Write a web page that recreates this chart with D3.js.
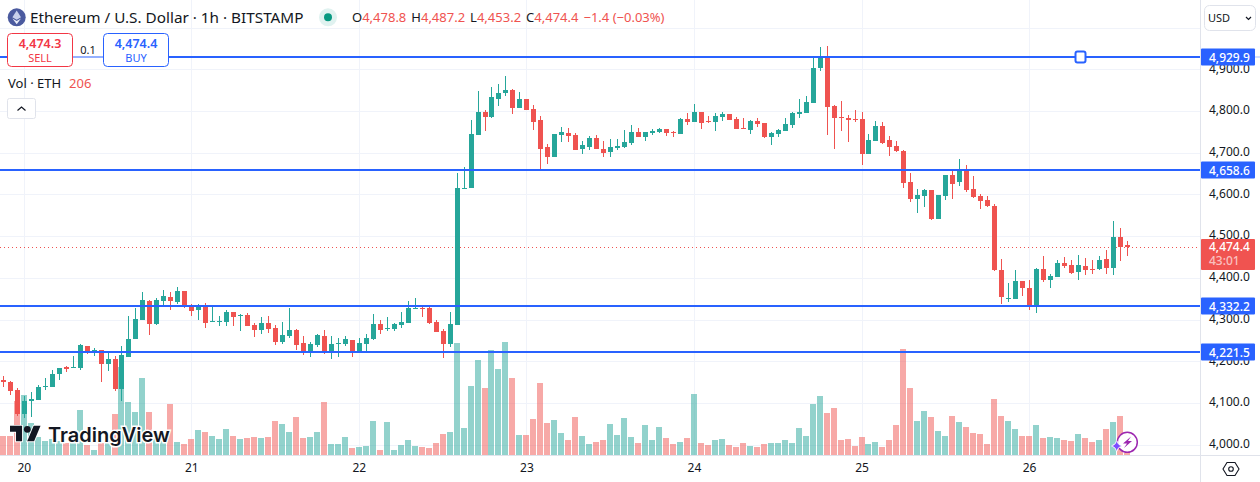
<!DOCTYPE html>
<html>
<head>
<meta charset="utf-8">
<title>ETHUSD</title>
<script src="https://cdn.jsdelivr.net/npm/d3@7/dist/d3.min.js"></script>
<style>
body { margin: 0; background: #fff; }
svg { display: block; font-family: "Noto Sans", sans-serif; }
</style>
</head>
<body>
<svg id="chart" width="1260" height="482"></svg>
<script>
var opens = [
    4155,4150,4131,4073,4105,4107,4138,4138,4169,4185,
    4184,4184,4237,4220,4227,4193,4205,4133,4210,4253,
    4299,4344,4289,4344,4354,4342,4368,4335,4323,4332,
    4294,4294,4294,4318,4308,4311,4287,4275,4292,4280,
    4246,4261,4275,4244,4220,4239,4261,4222,4241,4241,
    4251,4222,4241,4253,4289,4277,4277,4287,4292,4325,
    4328,4328,4294,4272,4241,4287,4613,4615,4742,4798,
    4786,4829,4843,4850,4807,4829,4805,4778,4714,4690,
    4742,4747,4742,4709,4714,4735,4709,4702,4711,4714,
    4723,4750,4738,4747,4750,4757,4750,4745,4781,4774,
    4798,4776,4774,4786,4793,4781,4759,4754,4776,4771,
    4738,4745,4752,4766,4793,4795,4819,4903,4927,4812,
    4786,4783,4781,4781,4697,4728,4764,4730,4716,4704,
    4630,4589,4596,4611,4541,4596,4647,4630,4659,4613,
    4596,4587,4572,4419,4349,4349,4392,4376,4330,4421,
    4395,4402,4436,4431,4414,4428,4421,4421,4445,4424,
    4498,4478.8
];
var highs = [
    4165,4153,4136,4117,4125,4143,4160,4179,4184,4189,
    4213,4241,4237,4232,4227,4220,4213,4237,4308,4328,
    4366,4347,4352,4371,4366,4378,4368,4337,4337,4340,
    4335,4308,4323,4318,4313,4316,4292,4306,4308,4287,
    4294,4328,4277,4261,4246,4265,4275,4261,4256,4261,
    4251,4256,4265,4313,4299,4306,4292,4318,4344,4352,
    4332,4330,4299,4277,4318,4651,4666,4778,4848,4802,
    4858,4865,4884,4853,4846,4829,4814,4788,4721,4745,
    4762,4759,4747,4728,4740,4742,4728,4733,4733,4754,
    4766,4759,4750,4757,4759,4757,4752,4783,4795,4817,
    4798,4788,4795,4798,4793,4786,4783,4778,4783,4771,
    4750,4757,4783,4798,4829,4836,4930,4953,4956,4814,
    4824,4790,4802,4798,4745,4776,4774,4740,4728,4707,
    4651,4613,4613,4611,4599,4647,4661,4685,4670,4644,
    4601,4596,4577,4445,4388,4419,4392,4395,4424,4452,
    4409,4443,4450,4443,4455,4447,4443,4452,4467,4536,
    4520,4487.2
];
var lows = [
    4139,4119,4069,4064,4065,4107,4131,4138,4155,4173,
    4184,4179,4217,4213,4150,4177,4129,4105,4210,4253,
    4299,4263,4287,4335,4323,4337,4328,4308,4299,4280,
    4294,4285,4285,4285,4273,4284,4258,4265,4268,4239,
    4241,4256,4227,4215,4210,4234,4217,4205,4210,4236,
    4210,4222,4222,4251,4265,4273,4273,4280,4292,4325,
    4306,4289,4270,4208,4234,4287,4613,4615,4742,4752,
    4783,4812,4836,4793,4807,4802,4754,4658,4673,4690,
    4726,4726,4706,4697,4706,4709,4690,4690,4706,4711,
    4718,4738,4728,4742,4747,4740,4738,4745,4766,4774,
    4757,4771,4752,4776,4778,4757,4757,4745,4762,4735,
    4718,4738,4752,4759,4783,4795,4819,4896,4742,4709,
    4752,4726,4774,4670,4697,4728,4721,4692,4702,4615,
    4582,4555,4570,4539,4541,4587,4589,4620,4606,4591,
    4565,4570,4416,4337,4342,4349,4356,4323,4316,4390,
    4376,4402,4423,4409,4395,4407,4409,4419,4409,4407,
    4440,4453.2
];
var closes = [
    4151,4129,4073,4105,4109,4138,4141,4169,4184,4181,
    4186,4239,4220,4227,4193,4205,4133,4215,4253,4301,
    4347,4289,4347,4356,4344,4368,4332,4320,4332,4292,
    4296,4296,4318,4306,4311,4285,4275,4292,4277,4246,
    4263,4275,4239,4220,4241,4263,4222,4241,4244,4253,
    4222,4244,4256,4289,4275,4280,4289,4294,4328,4328,
    4325,4292,4270,4241,4289,4615,4615,4745,4798,4786,
    4834,4843,4850,4807,4829,4802,4774,4709,4690,4745,
    4750,4740,4707,4718,4735,4709,4699,4714,4716,4726,
    4750,4738,4750,4752,4757,4747,4748,4781,4774,4798,
    4771,4774,4788,4793,4778,4757,4757,4776,4769,4738,
    4747,4754,4769,4795,4798,4822,4903,4930,4810,4783,
    4783,4778,4778,4697,4730,4764,4723,4714,4704,4627,
    4589,4599,4611,4541,4599,4647,4625,4661,4611,4594,
    4584,4572,4419,4354,4352,4392,4376,4330,4421,4395,
    4404,4436,4428,4411,4431,4419,4419,4443,4424,4498,
    4474,4474.4
];
var volumes = [
    1900,1900,5400,6000,3200,1800,1400,1600,1400,1200,
    1300,4500,1000,500,1200,1500,4100,8800,5300,4300,
    7700,4300,2000,2000,5100,1300,1100,1600,2500,2300,
    1900,1600,2600,1900,1600,1700,1800,1700,1800,3400,
    3100,2300,3800,1700,1800,2300,5300,1100,1100,1800,
    700,800,900,3400,500,3300,500,1000,1500,900,
    800,700,1200,2100,2300,11200,2700,6900,9500,6700,
    10500,8600,11300,7700,2000,2000,3600,7200,3200,3500,
    2200,1500,3800,1900,1100,1300,1500,3100,2000,3700,
    1800,1200,3000,1500,2800,1700,1100,1300,1700,6100,
    1200,1000,1500,1600,1000,800,1200,900,800,1100,
    1200,1200,1500,1200,2700,1900,5100,5900,4200,4700,
    1500,1600,900,1800,1100,1300,800,1500,3000,10600,
    6700,3400,4400,3800,2400,1900,3900,3300,2800,2200,
    2100,1100,5600,3900,3400,2600,1900,1900,3000,1700,
    1800,1700,1500,1400,2100,1700,1300,1500,2600,3300,
    3900,206
];
var priceTicks = [4000, 4100, 4200, 4300, 4400, 4500, 4600, 4700, 4800, 4900];
var gridPrices = [4000, 4100, 4200, 4300, 4400, 4500, 4600, 4700, 4800, 4900, 5000];
var dayTicks = [3, 27, 51, 75, 99, 123, 147];
var dayLabels = ["20", "21", "22", "23", "24", "25", "26"];
var levels = [4929.9, 4658.6, 4332.2, 4221.5];
var lastPrice = 4474.4;

var upColor = "#26a69a", downColor = "#ef5350", blue = "#2962ff";
var textColor = "#131722", gridColor = "#f0f3fa", borderColor = "#e0e3eb";
var chartRight = 1200, chartBottom = 455;

var svg = d3.select("#chart");
var fmt = d3.format(",.1f");

var x = d3.scaleLinear().domain([0, opens.length - 1]).range([3.3, 1127.3]);
var y = d3.scaleLinear().domain([4000, 4900]).range([444.6, 69.3]);
var yVol = d3.scaleLinear().domain([0, 11300]).range([chartBottom, 342]);

function px(i) { return Math.floor(x(i)); }
function py(p) { return Math.round(y(p)); }
function colorOf(i) { return closes[i] >= opens[i] ? upColor : downColor; }

// grid
svg.append("g").selectAll("line")
    .data(gridPrices)
    .enter()
    .append("line")
    .attr("x1", 0)
    .attr("x2", chartRight)
    .attr("y1", function(d) { return py(d) + 0.5; })
    .attr("y2", function(d) { return py(d) + 0.5; })
    .attr("stroke", gridColor);

svg.append("g").selectAll("line")
    .data(dayTicks)
    .enter()
    .append("line")
    .attr("x1", function(d) { return px(d) + 0.5; })
    .attr("x2", function(d) { return px(d) + 0.5; })
    .attr("y1", 0)
    .attr("y2", chartBottom)
    .attr("stroke", gridColor);

// volume
svg.append("g").selectAll("rect")
    .data(volumes)
    .enter()
    .append("rect")
    .attr("x", function(d, i) { return px(i) - 3; })
    .attr("width", 6)
    .attr("y", function(d) { return Math.round(yVol(d)); })
    .attr("height", function(d) { return chartBottom - Math.round(yVol(d)); })
    .attr("fill", function(d, i) { return colorOf(i); })
    .attr("fill-opacity", 0.5);

// last price dotted line
svg.append("line")
    .attr("x1", 0)
    .attr("x2", chartRight)
    .attr("y1", py(lastPrice) + 0.5)
    .attr("y2", py(lastPrice) + 0.5)
    .attr("stroke", downColor)
    .attr("stroke-dasharray", "1 3");

// candles
var candles = svg.append("g").selectAll("g")
    .data(opens)
    .enter()
    .append("g");

candles.append("rect")
    .attr("x", function(d, i) { return px(i); })
    .attr("width", 1)
    .attr("y", function(d, i) { return py(highs[i]); })
    .attr("height", function(d, i) { return py(lows[i]) - py(highs[i]); })
    .attr("fill", function(d, i) { return colorOf(i); });

candles.append("rect")
    .attr("x", function(d, i) { return px(i) - 2; })
    .attr("width", 5)
    .attr("y", function(d, i) { return py(Math.max(opens[i], closes[i])); })
    .attr("height", function(d, i) {
        return Math.max(1, py(Math.min(opens[i], closes[i])) - py(Math.max(opens[i], closes[i])));
    })
    .attr("fill", function(d, i) { return colorOf(i); });

// horizontal levels
svg.append("g").selectAll("line")
    .data(levels)
    .enter()
    .append("line")
    .attr("x1", 0)
    .attr("x2", chartRight)
    .attr("y1", function(d) { return py(d); })
    .attr("y2", function(d) { return py(d); })
    .attr("stroke", blue)
    .attr("stroke-width", 2);

// line handle
svg.append("rect")
    .attr("x", 1075.5)
    .attr("y", py(levels[0]) - 5.5)
    .attr("width", 10)
    .attr("height", 11)
    .attr("rx", 2)
    .attr("fill", "#fff")
    .attr("stroke", blue)
    .attr("stroke-width", 2);

// panes border
svg.append("line").attr("x1", chartRight + 0.5).attr("x2", chartRight + 0.5).attr("y1", 0).attr("y2", 482)
    .attr("stroke", borderColor);
svg.append("line").attr("x1", 0).attr("x2", 1260).attr("y1", chartBottom + 0.5).attr("y2", chartBottom + 0.5)
    .attr("stroke", borderColor);

// axes
var yAxis = d3.axisRight(y)
    .tickValues(priceTicks)
    .tickSize(0)
    .tickPadding(9)
    .tickFormat(fmt);

var gy = svg.append("g")
    .attr("transform", "translate(" + chartRight + ",0)")
    .call(yAxis);
gy.select(".domain").remove();
gy.selectAll("text")
    .attr("dy", "0.24em")
    .attr("fill", textColor)
    .style("font-size", "12px")
    .style("font-family", "'Noto Sans'");

var xAxis = d3.axisBottom(x)
    .tickValues(dayTicks)
    .tickSize(0)
    .tickPadding(8)
    .offset(0)
    .tickFormat(function(d, i) { return dayLabels[i]; });

var gx = svg.append("g")
    .attr("transform", "translate(0," + chartBottom + ")")
    .call(xAxis);
gx.select(".domain").remove();
gx.selectAll("text").attr("fill", textColor).style("font-size", "12px").style("font-family", "'Noto Sans'");

// price labels on the axis
svg.append("line").attr("x1", 1255).attr("x2", 1260).attr("y1", py(levels[0])).attr("y2", py(levels[0]))
    .attr("stroke", "#a9bdff");

var levelTags = svg.append("g").selectAll("g")
    .data(levels)
    .enter()
    .append("g")
    .attr("transform", function(d) { return "translate(1201," + py(d) + ")"; });

levelTags.append("rect")
    .attr("y", -8.5)
    .attr("width", 54)
    .attr("height", 17)
    .attr("rx", 1)
    .attr("fill", blue);

levelTags.append("text")
    .attr("x", 8)
    .attr("y", 4.5)
    .attr("fill", "#fff")
    .attr("font-size", 12)
    .attr("font-weight", 500)
    .text(function(d) { return fmt(d); });

svg.append("rect")
    .attr("x", 1201).attr("y", 239).attr("width", 54).attr("height", 31).attr("rx", 1)
    .attr("fill", "#f05350");
svg.append("text").attr("x", 1209).attr("y", 251).attr("fill", "#fff").attr("font-size", 12).attr("font-weight", 500).text(fmt(lastPrice));
svg.append("text").attr("x", 1209).attr("y", 265).attr("fill", "#fff").attr("fill-opacity", 0.65).attr("font-size", 12).attr("font-weight", 500).text("43:01");

// TradingView logo
var logo = svg.append("g").attr("transform", "translate(11,426)");
logo.append("path")
    .attr("transform", "translate(-1,-3.6) scale(0.86)")
    .attr("d", "M14 22H7V11H0V4h14v18zM28 22h-8l7.5-18h8L28 22z")
    .attr("fill", "#131722")
    .attr("stroke", "#fff")
    .attr("stroke-width", 2)
    .style("paint-order", "stroke");
logo.append("circle").attr("cx", 16.3).attr("cy", 3.3).attr("r", 3.4).attr("fill", "#131722");
logo.append("text")
    .attr("x", 37)
    .attr("y", 16)
    .attr("font-family", "Inter")
    .attr("font-weight", 600)
    .attr("font-size", 20)
    .attr("fill", "#131722")
    .attr("stroke", "#fff")
    .attr("stroke-width", 3)
    .style("paint-order", "stroke")
    .text("TradingView");

// lightning badge
svg.append("circle").attr("cx", 1127.3).attr("cy", 442.3).attr("r", 10).attr("fill", "#fff").attr("stroke", "#9c27b0").attr("stroke-width", 1.5);
svg.append("path").attr("d", "M1131 436.5 L1123 443.5 L1127 443.5 L1124 448 L1132 441 L1128 441 Z").attr("fill", "#9c27b0");
svg.append("path")
    .attr("d", "M1116.7 441 Q1117.5 445.2 1121.7 446 Q1117.5 446.8 1116.7 451 Q1115.9 446.8 1111.7 446 Q1115.9 445.2 1116.7 441 Z")
    .attr("fill", "#7c4dff")
    .attr("stroke", "#fff")
    .attr("stroke-width", 1.5)
    .style("paint-order", "stroke");

// settings icon
svg.append("path")
    .attr("d", "M1227 462.5 h8 l4 6.5 l-4 6.5 h-8 l-4 -6.5 Z")
    .attr("fill", "none").attr("stroke", textColor).attr("stroke-width", 1.1);
svg.append("circle").attr("cx", 1231).attr("cy", 469).attr("r", 2.3).attr("fill", "none").attr("stroke", textColor).attr("stroke-width", 1.1);

// currency button
svg.append("rect").attr("x", 1204.5).attr("y", 5.5).attr("width", 51).attr("height", 25).attr("rx", 5)
    .attr("fill", "#fff").attr("stroke", borderColor);
svg.append("text").attr("x", 1208).attr("y", 21.5).attr("fill", textColor).attr("font-size", 11).text("USD");
svg.append("path").attr("d", "M1246 17 l2.5 2.5 l2.5 -2.5").attr("fill", "none").attr("stroke", textColor).attr("stroke-width", 1.2);

// header
svg.append("circle").attr("cx", 16.7).attr("cy", 17.3).attr("r", 9).attr("fill", "#4b5a9f");
svg.append("path").attr("d", "M16.7 10.5 L21 17.3 L16.7 19.8 L12.4 17.3 Z").attr("fill", "#c9d0ec");
svg.append("path").attr("d", "M16.7 21 L21 18.5 L16.7 24.2 L12.4 18.5 Z").attr("fill", "#e8ebf7");

svg.append("text")
    .attr("x", 30)
    .attr("y", 22.5)
    .attr("fill", textColor)
    .attr("font-size", 15.3)
    .text("Ethereum / U.S. Dollar · 1h · BITSTAMP");

svg.append("circle").attr("cx", 328).attr("cy", 17.3).attr("r", 9).attr("fill", "#e0f2f0");
svg.append("circle").attr("cx", 328).attr("cy", 17.3).attr("r", 4).attr("fill", "#089981");

var ohlc = svg.append("text").attr("x", 352).attr("y", 22).attr("font-size", 13).attr("fill", downColor);
var ohlcParts = [["O", fmt(opens[161])], ["H", fmt(highs[161])], ["L", fmt(lows[161])], ["C", fmt(closes[161])]];
ohlcParts.forEach(function(p, i) {
    ohlc.append("tspan").attr("fill", textColor).attr("dx", i ? 5 : 0).text(p[0]);
    ohlc.append("tspan").text(p[1]);
});
ohlc.append("tspan").attr("dx", 5).text("−1.4 (−0.03%)");

// sell / buy
svg.append("line").attr("x1", 73).attr("x2", 103).attr("y1", py(levels[0])).attr("y2", py(levels[0])).attr("stroke", "#95b1ff").attr("stroke-width", 2);

svg.append("rect").attr("x", 7.5).attr("y", 33.5).attr("width", 65).attr("height", 33).attr("rx", 4)
    .attr("fill", "#fff").attr("stroke", "#f23645");
svg.append("text").attr("x", 40).attr("y", 47.5).attr("text-anchor", "middle").attr("fill", "#f23645")
    .attr("font-size", 12.5).attr("font-weight", 600).text("4,474.3");
svg.append("text").attr("x", 40).attr("y", 61.5).attr("text-anchor", "middle").attr("fill", "#f23645")
    .attr("font-size", 11).text("SELL");

svg.append("text").attr("x", 88).attr("y", 53.5).attr("text-anchor", "middle").attr("fill", textColor)
    .attr("font-size", 11).text("0.1");

svg.append("rect").attr("x", 103.5).attr("y", 33.5).attr("width", 65).attr("height", 33).attr("rx", 4)
    .attr("fill", "#fff").attr("stroke", blue);
svg.append("text").attr("x", 136).attr("y", 47.5).attr("text-anchor", "middle").attr("fill", blue)
    .attr("font-size", 12.5).attr("font-weight", 600).text("4,474.4");
svg.append("text").attr("x", 136).attr("y", 61.5).attr("text-anchor", "middle").attr("fill", blue)
    .attr("font-size", 11).text("BUY");

// volume legend
var volLegend = svg.append("text").attr("x", 8).attr("y", 88).attr("font-size", 13).attr("fill", textColor);
volLegend.append("tspan").text("Vol · ETH");
volLegend.append("tspan").attr("dx", 8).attr("fill", downColor).text("206");

svg.append("rect").attr("x", 7.5).attr("y", 98.5).attr("width", 28).attr("height", 20).attr("rx", 2)
    .attr("fill", "#fff").attr("stroke", borderColor);
svg.append("path").attr("d", "M17.5 110.5 l4 -3.5 l4 3.5").attr("fill", "none").attr("stroke", textColor).attr("stroke-width", 1.2);
</script>
</body>
</html>
